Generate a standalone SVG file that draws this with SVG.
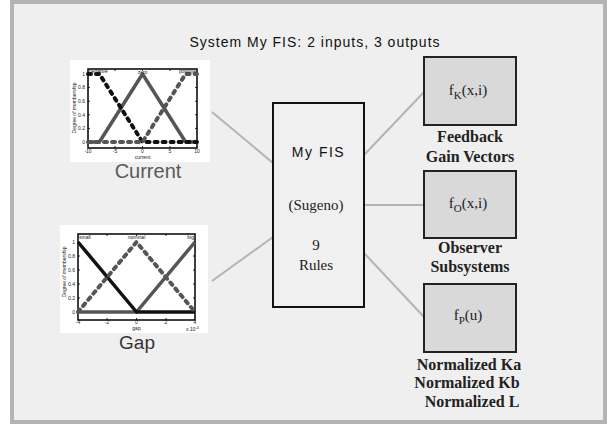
<svg xmlns="http://www.w3.org/2000/svg" width="608" height="426" viewBox="0 0 608 426">
<style>
.sans{font-family:"Liberation Sans",Arial,sans-serif}
.serif{font-family:"Liberation Serif","Times New Roman",serif}
.tick{font-family:"Liberation Sans",Arial,sans-serif;font-size:5px;fill:#222}
.axes{fill:none;stroke:#000;stroke-width:1.5}
.solidG{fill:none;stroke:#555;stroke-width:3.5;stroke-linejoin:round}
.solidK{fill:none;stroke:#111;stroke-width:3.5;stroke-linejoin:round}
.dotK{fill:none;stroke:#111;stroke-width:4;stroke-linecap:round;stroke-dasharray:3 5}
.dotG{fill:none;stroke:#555;stroke-width:4;stroke-linecap:round;stroke-dasharray:3 5}
.conn{stroke:#b4b4b4;stroke-width:2;fill:none}
.out{fill:#d9d9d9;stroke:#222;stroke-width:2}
.olabel{font-family:"Liberation Serif","Times New Roman",serif;font-weight:bold;font-size:16px;fill:#222;text-anchor:middle}
.ftext{font-family:"Liberation Serif","Times New Roman",serif;font-size:15px;fill:#222;text-anchor:middle}
</style>
<rect x="0" y="0" width="608" height="426" fill="#ffffff"/>
<rect x="12" y="2" width="593" height="420" fill="#efefef" stroke="#b4b4b4" stroke-width="4"/>
<text class="sans" x="315" y="47" font-size="14" letter-spacing="1" text-anchor="middle" fill="#111">System My FIS: 2 inputs, 3 outputs</text>

<g id="connectors">
<line class="conn" x1="212" y1="112" x2="273" y2="163"/>
<line class="conn" x1="212" y1="281" x2="273" y2="237"/>
<line class="conn" x1="364" y1="155" x2="424" y2="92"/>
<line class="conn" x1="364" y1="205" x2="424" y2="205"/>
<line class="conn" x1="364" y1="253" x2="424" y2="317"/>
</g>

<g id="input-current">
<rect x="70" y="60" width="140" height="102" fill="#ffffff"/>
<rect class="axes" x="88" y="69" width="109" height="79"/>
<g stroke="#000" stroke-width="0.8">
<line x1="115" y1="148" x2="115" y2="146"/><line x1="142.5" y1="148" x2="142.5" y2="146"/><line x1="170" y1="148" x2="170" y2="146"/>
<line x1="115" y1="69" x2="115" y2="71"/><line x1="142.5" y1="69" x2="142.5" y2="71"/><line x1="170" y1="69" x2="170" y2="71"/>
<line x1="88" y1="128.4" x2="90" y2="128.4"/><line x1="88" y1="114.8" x2="90" y2="114.8"/><line x1="88" y1="101.2" x2="90" y2="101.2"/><line x1="88" y1="87.6" x2="90" y2="87.6"/>
<line x1="197" y1="128.4" x2="195" y2="128.4"/><line x1="197" y1="114.8" x2="195" y2="114.8"/><line x1="197" y1="101.2" x2="195" y2="101.2"/><line x1="197" y1="87.6" x2="195" y2="87.6"/>
</g>
<polyline class="solidG" points="88,142 99.4,142 142.5,74 185.6,142 197,142"/>
<polyline class="dotK" points="88,74 99.4,74 142.5,142 197,142"/>
<polyline class="dotG" points="88,142 142.5,142 185.6,74 197,74"/>
<g class="tick" text-anchor="end">
<text x="85" y="144">0</text><text x="85" y="130">0.2</text><text x="85" y="117">0.4</text><text x="85" y="103">0.6</text><text x="85" y="89">0.8</text><text x="85" y="76">1</text>
</g>
<g class="tick" text-anchor="middle">
<text x="88" y="152.5">-10</text><text x="115" y="152.5">-5</text><text x="142.5" y="152.5">0</text><text x="170" y="152.5">5</text><text x="197" y="152.5">10</text>
<text x="142.5" y="158.5">current</text>
<text x="142.5" y="74">zero</text>
</g>
<text class="tick" x="89" y="73">negative</text>
<text class="tick" x="196" y="73" text-anchor="end">positive</text>
<text class="tick" transform="translate(76,108) rotate(-90)" text-anchor="middle">Degree of membership</text>
<text class="sans" x="148" y="178" font-size="20" text-anchor="middle" fill="#5a5a5a">Current</text>
</g>

<g id="input-gap">
<rect x="60" y="225" width="148" height="108" fill="#ffffff"/>
<rect class="axes" x="78" y="234" width="117" height="86"/>
<g stroke="#000" stroke-width="0.8">
<line x1="107" y1="320" x2="107" y2="318"/><line x1="136.5" y1="320" x2="136.5" y2="318"/><line x1="166" y1="320" x2="166" y2="318"/>
<line x1="107" y1="234" x2="107" y2="236"/><line x1="136.5" y1="234" x2="136.5" y2="236"/><line x1="166" y1="234" x2="166" y2="236"/>
<line x1="78" y1="298" x2="80" y2="298"/><line x1="78" y1="284" x2="80" y2="284"/><line x1="78" y1="270" x2="80" y2="270"/><line x1="78" y1="256" x2="80" y2="256"/>
<line x1="195" y1="298" x2="193" y2="298"/><line x1="195" y1="284" x2="193" y2="284"/><line x1="195" y1="270" x2="193" y2="270"/><line x1="195" y1="256" x2="193" y2="256"/>
</g>
<polyline class="solidG" points="78,312 136.5,312 195,242"/>
<polyline class="solidK" points="78,242 136.5,312 195,312"/>
<polyline class="dotG" points="78,312 136.5,242 195,312"/>
<g class="tick" text-anchor="end">
<text x="75" y="314">0</text><text x="75" y="300">0.2</text><text x="75" y="286">0.4</text><text x="75" y="272">0.6</text><text x="75" y="258">0.8</text><text x="75" y="244">1</text>
</g>
<g class="tick" text-anchor="middle">
<text x="78" y="324">-4</text><text x="107" y="324">-2</text><text x="136.5" y="324">0</text><text x="166" y="324">2</text><text x="195" y="324">4</text>
<text x="136.5" y="329.8">gap</text>
<text x="136.5" y="239">nominal</text>
</g>
<text class="tick" x="79" y="239">small</text>
<text class="tick" x="194" y="239" text-anchor="end">big</text>
<text class="tick" x="186" y="331">x 10<tspan dy="-2" font-size="4">-4</tspan></text>
<text class="tick" transform="translate(66,272) rotate(-90)" text-anchor="middle">Degree of membership</text>
<text class="sans" x="137" y="349" font-size="19" text-anchor="middle" fill="#333">Gap</text>
</g>

<g id="fis">
<rect x="273" y="103" width="91" height="204" fill="#f0f0f0" stroke="#111" stroke-width="2"/>
<text class="sans" x="318.5" y="157" font-size="14" letter-spacing="1.5" text-anchor="middle" fill="#111">My FIS</text>
<text class="serif" x="316" y="210" font-size="15" text-anchor="middle" fill="#222">(Sugeno)</text>
<text class="serif" x="316" y="250" font-size="15" text-anchor="middle" fill="#222">9</text>
<text class="serif" x="316" y="270" font-size="15" text-anchor="middle" fill="#222">Rules</text>
</g>

<g id="out-feedback">
<rect class="out" x="424" y="57" width="92" height="68"/>
<text class="ftext" x="468" y="95">f<tspan font-size="11" dy="4">K</tspan><tspan dy="-4">(x,i)</tspan></text>
<text class="olabel" x="470" y="142">Feedback</text>
<text class="olabel" x="470" y="162">Gain Vectors</text>
</g>

<g id="out-observer">
<rect class="out" x="424" y="171" width="92" height="67"/>
<text class="ftext" x="468" y="208">f<tspan font-size="11" dy="4">O</tspan><tspan dy="-4">(x,i)</tspan></text>
<text class="olabel" x="470" y="253">Observer</text>
<text class="olabel" x="470" y="272">Subsystems</text>
</g>

<g id="out-normalized">
<rect class="out" x="424" y="284" width="92" height="68"/>
<text class="ftext" x="468" y="320">f<tspan font-size="11" dy="4">P</tspan><tspan dy="-4">(u)</tspan></text>
<text class="olabel" x="469" y="370">Normalized Ka</text>
<text class="olabel" x="467" y="388">Normalized Kb</text>
<text class="olabel" x="472" y="407">Normalized L</text>
</g>
</svg>
